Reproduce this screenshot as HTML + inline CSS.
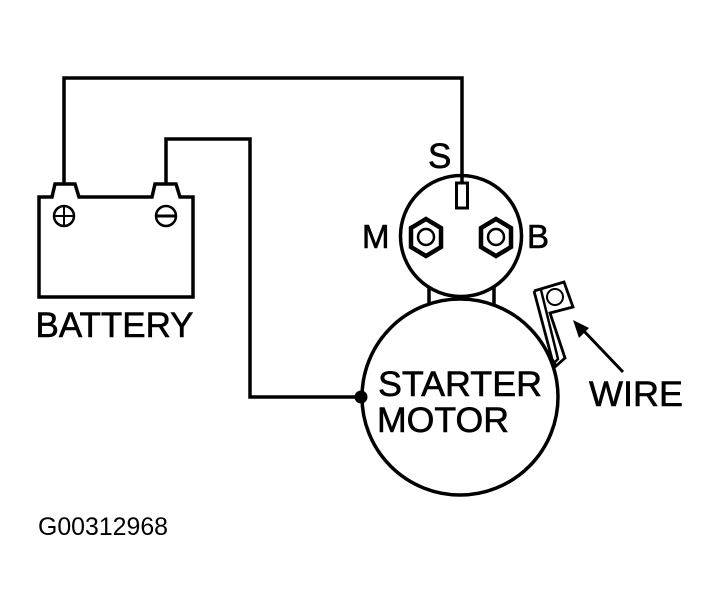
<!DOCTYPE html>
<html><head><meta charset="utf-8"><style>html,body{margin:0;padding:0;background:#fff}svg{display:block}text{font-family:"Liberation Sans",sans-serif;fill:#000;stroke:#000;stroke-width:.6}</style></head><body>
<svg width="719" height="610" viewBox="0 0 719 610" xmlns="http://www.w3.org/2000/svg">
<g fill="none" stroke="#000" stroke-width="3.5">
<path d="M64 183V78H462V182"/>
<path d="M166 183V139H250V397H360"/>
<path d="M39 297V197H52L55 184H75L79 197H152L155 184H176L180 197H193V297Z"/>
<circle cx="64" cy="216" r="10" stroke-width="2.5"/>
<path d="M64 206V226M54 216H74" stroke-width="2"/>
<circle cx="166" cy="216" r="10" stroke-width="2.5"/>
<path d="M157 216H175" stroke-width="3"/>
<circle cx="461" cy="236" r="60.5"/>
<rect x="456.5" y="183" width="11" height="25" stroke-width="3"/>
<path d="M426 219L441 228V247L426 256L411 247V228Z" stroke-width="4.5"/>
<circle cx="426" cy="237" r="8" stroke-width="2.5"/>
<path d="M496 219L511 228V247L496 256L481 247V228Z" stroke-width="4.5"/>
<circle cx="496" cy="237" r="8" stroke-width="2.5"/>
<path d="M429 287V305M494 287V305"/>
<circle cx="460" cy="397" r="98"/>
<path d="M534 291L564 282L573 307L550 313L565 358L556 366L552 359L534 291" stroke-width="2.8"/>
<path d="M541 290L558 359L555 362" stroke-width="2.5"/>
<circle cx="555" cy="297" r="8" stroke-width="2"/>
<path d="M582 329L623 372" stroke-width="3"/>
</g>
<path d="M573 320L589 328L579 338Z" fill="#000"/>
<circle cx="361" cy="397" r="6.5" fill="#000"/>
<text x="428" y="168" font-size="35">S</text>
<text x="362" y="248" font-size="33">M</text>
<text x="527" y="248" font-size="33">B</text>
<text x="35.5" y="337" font-size="35" textLength="158" lengthAdjust="spacingAndGlyphs">BATTERY</text>
<text x="378" y="396" font-size="35" textLength="164" lengthAdjust="spacingAndGlyphs">STARTER</text>
<text x="377" y="432" font-size="35" textLength="132" lengthAdjust="spacingAndGlyphs">MOTOR</text>
<text x="589" y="406" font-size="35" textLength="94" lengthAdjust="spacingAndGlyphs">WIRE</text>
<text x="38" y="535" font-size="25" textLength="130" lengthAdjust="spacingAndGlyphs" style="stroke-width:0">G00312968</text>
</svg>
</body></html>
